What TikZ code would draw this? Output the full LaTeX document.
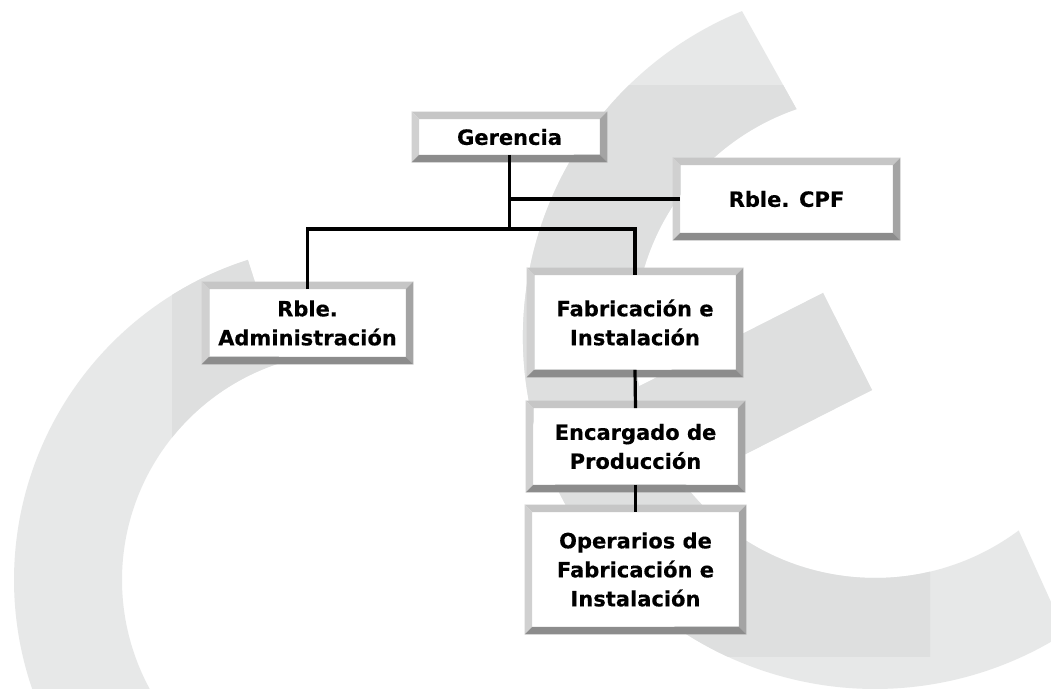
\documentclass[tikz,border=0pt]{standalone}
\usepackage{fontspec}
\setmainfont{DejaVu Sans}
\newfontfamily\boxfont{DejaVu Sans Bold}[FakeBold=0.35]
\usetikzlibrary{calc}
\definecolor{wmlight}{HTML}{E7E8E8}
\definecolor{wmdark}{HTML}{DEDFDF}
\definecolor{bevT}{HTML}{C6C6C6}
\definecolor{bevL}{HTML}{D0D0D0}
\definecolor{bevR}{HTML}{A4A4A4}
\definecolor{bevB}{HTML}{8C8C8C}
\newcommand\wmpaths[1]{%
  % left arc band
  \fill[#1] (350,580) ++(252.3:336) arc[start angle=252.3, end angle=140, radius=336]
     -- ($(350,580)+(140:228)$) arc[start angle=140, end angle=252.3, radius=228] -- cycle;
  % right C band
  \fill[#1] (875,337) ++(247.8:352) arc[start angle=247.8, end angle=57.3, radius=352]
     -- ($(875,337)+(53.4:241)$) arc[start angle=53.4, end angle=251, radius=241] -- cycle;
  % middle bar
  \fill[#1] (823,293) -- (872,390) -- (620,517.7) -- (620,396) -- cycle;
}
\newcommand\bevel[1]{%
  \fill[bevT] (#1.north west) -- (#1.north east) -- ([shift={(3.75pt,3.75pt)}]#1.north east) -- ([shift={(-3.75pt,3.75pt)}]#1.north west) -- cycle;
  \fill[bevL] (#1.north west) -- (#1.south west) -- ([shift={(-3.75pt,-3.75pt)}]#1.south west) -- ([shift={(-3.75pt,3.75pt)}]#1.north west) -- cycle;
  \fill[bevR] (#1.north east) -- (#1.south east) -- ([shift={(3.75pt,-3.75pt)}]#1.south east) -- ([shift={(3.75pt,3.75pt)}]#1.north east) -- cycle;
  \fill[bevB] (#1.south west) -- (#1.south east) -- ([shift={(3.75pt,-3.75pt)}]#1.south east) -- ([shift={(-3.75pt,-3.75pt)}]#1.south west) -- cycle;
}
\tikzset{
  orgbox/.style={fill=white, inner sep=0pt, align=center, text=black,
    font=\boxfont\fontsize{10.5}{14.5}\selectfont},
  link/.style={draw=black, line width=1.6pt}
}
\begin{document}
\begin{tikzpicture}[x=0.5pt, y=-0.5pt]
\path[use as bounding box] (0,0) rectangle (1051,689);
\clip (0,0) rectangle (1051,689);
\fill[white] (0,0) rectangle (1051,689);
% watermark
\wmpaths{wmlight}
\begin{scope}
  \clip (172,86) rectangle (930,657);
  \wmpaths{wmdark}
\end{scope}
% boxes
\node[orgbox, minimum width=90pt, minimum height=17.5pt] (ger) at (509.5,137) {Gerencia};
\node[orgbox, minimum width=106pt, minimum height=33.5pt] (cpf) at (786.5,199) {Rble. CPF};
\node[orgbox, minimum width=98pt, minimum height=33.5pt] (adm) at (307.5,323) {Rble.\\Administración};
\node[orgbox, minimum width=100.5pt, minimum height=47pt] (fab) at (635,322.5) {Fabricación e\\Instalación};
\node[orgbox, minimum width=102pt, minimum height=38pt] (enc) at (635.5,446.5) {Encargado de\\Producción};
\node[orgbox, minimum width=103pt, minimum height=57pt] (ope) at (635.5,569.5) {Operarios de\\Fabricación e\\Instalación};
\bevel{ger}\bevel{cpf}\bevel{adm}\bevel{fab}\bevel{enc}\bevel{ope}
% connectors
\coordinate (bus) at (509.5,229);
\draw[link] (ger.south) -- (bus);
\draw[link] (ger.south |- cpf.west) -- (cpf.west);
\draw[link] (adm.north) |- (bus) -| (fab.north);
\draw[link] (fab.south) -- (enc.north);
\draw[link] (enc.south) -- (ope.north);
\end{tikzpicture}
\end{document}
